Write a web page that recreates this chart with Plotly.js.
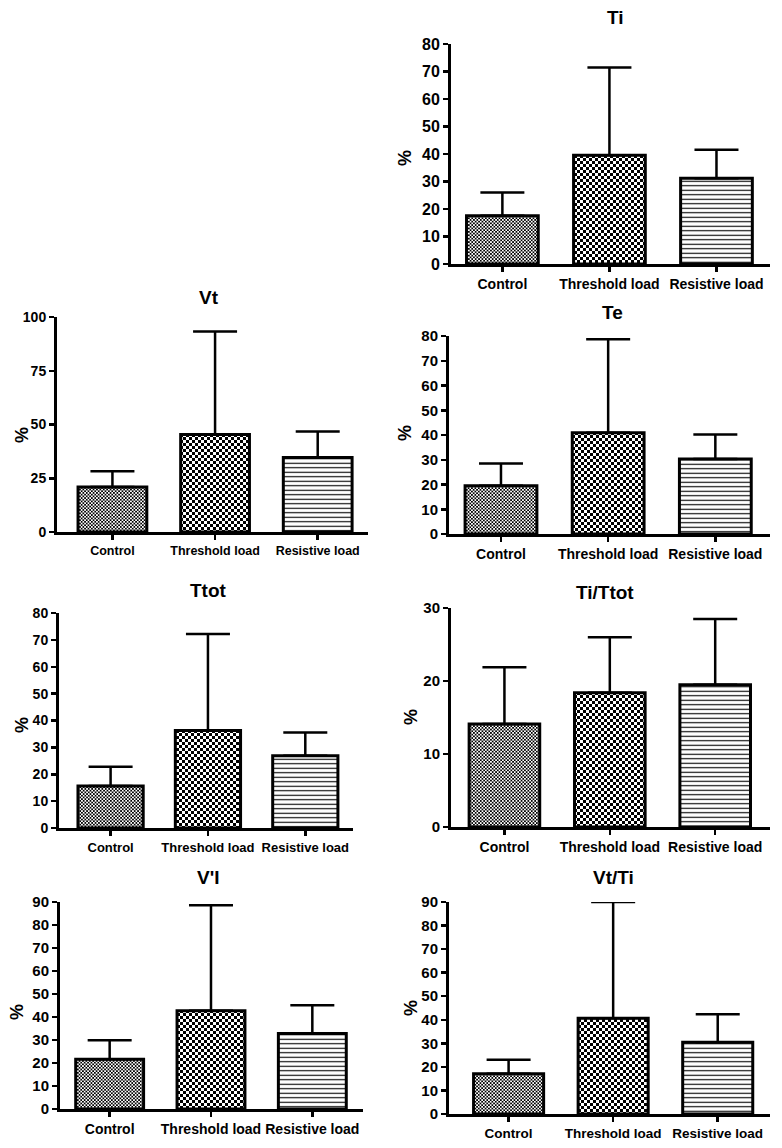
<!DOCTYPE html>
<html><head><meta charset="utf-8">
<script src="https://cdn.plot.ly/plotly-3.0.1.min.js"></script>
<style>html,body{margin:0;padding:0;background:#fff}#chart{width:782px;height:1148px}</style>
</head><body><div id="chart"></div>
<script>
// ---- data ----
const categories = ['Control', 'Threshold load', 'Resistive load'];
const panelTitles = ['Ti', 'Vt', 'Te', 'Ttot', 'Ti/Ttot', "V'I", 'Vt/Ti'];
const tiMean = [17.5, 39.5, 31.2];
const tiSd = [8.5, 32.0, 10.3];
const vtMean = [20.9, 45.4, 34.7];
const vtSd = [7.3, 47.9, 12.1];
const teMean = [19.5, 40.9, 30.3];
const teSd = [9.0, 37.8, 9.9];
const ttotMean = [15.6, 36.3, 26.9];
const ttotSd = [7.2, 35.9, 8.6];
const tiTtotMean = [14.1, 18.4, 19.5];
const tiTtotSd = [7.8, 7.6, 9.0];
const viMean = [21.6, 42.7, 32.8];
const viSd = [8.3, 45.9, 12.3];
const vtTiMean = [17.1, 40.6, 30.5];
const vtTiSd = [5.9, 49.4, 11.8];
const yMax = [80, 100, 80, 80, 30, 90, 90];
const yStep = [10, 25, 10, 10, 10, 10, 10];
const yLabel = '%';

// ---- layout (pixel positions and font sizes of each panel) ----
const W = 782, H = 1148;
const means = [tiMean, vtMean, teMean, ttotMean, tiTtotMean, viMean, vtTiMean];
const sds = [tiSd, vtSd, teSd, ttotSd, tiTtotSd, viSd, vtTiSd];
const geom = [
  {x:[451,770], y:[44,264],   xr:[-0.48,2.5],  t:[615,18],  p:[405,158],  fx:14,   fy:16},
  {x:[57,368],  y:[317,532],  xr:[-0.54,2.49], t:[209,297], p:[22,435],   fx:12.5, fy:14},
  {x:[449,770], y:[336,534],  xr:[-0.485,2.51],t:[612,313], p:[405,433],  fx:14,   fy:15},
  {x:[59,353],  y:[613,828],  xr:[-0.53,2.49], t:[208,590], p:[22,725],   fx:13,   fy:14},
  {x:[451,770], y:[608,827],  xr:[-0.507,2.52],t:[605,592], p:[411,717],  fx:14,   fy:15},
  {x:[60,363],  y:[902,1109], xr:[-0.49,2.5],  t:[208,877], p:[17,1012],  fx:14,   fy:15},
  {x:[449,770], y:[902,1114], xr:[-0.57,2.5],  t:[613,877], p:[411,1008], fx:13.5, fy:15}
];
function checker(s){const h=s/2;return `M0,0H${h}V${h}H0Z M${h},${h}H${s}V${s}H${h}Z`;}
const pats = [
  {path: checker(3.4), size: 3.4},
  {path: checker(6), size: 6},
  {shape: '-', size: 4.5, solidity: 0.25}
];
const FONT = 'Liberation Sans, Arial, sans-serif';
const data = [];
const layout = {
  width: W, height: H, margin: {l:0, r:0, t:0, b:0},
  paper_bgcolor: '#fff', plot_bgcolor: 'rgba(0,0,0,0)',
  barmode: 'overlay', showlegend: false,
  font: {family: FONT, color: '#000', size: 14, weight: 'bold'},
  annotations: []
};
geom.forEach((g, i) => {
  const k = i + 1, sfx = k === 1 ? '' : String(k);
  categories.forEach((c, j) => {
    data.push({
      type: 'bar', x: [c], y: [means[i][j]], xaxis: 'x' + sfx, yaxis: 'y' + sfx,
      width: 0.67, hoverinfo: 'skip', cliponaxis: false,
      marker: {color: '#fff', line: {color: '#000', width: 3},
        pattern: Object.assign({fgcolor: '#000', bgcolor: '#fff', fgopacity: 1, fillmode: 'replace'}, pats[j])},
      error_y: {type: 'data', symmetric: false, array: [sds[i][j]], arrayminus: [0],
        color: '#000', thickness: 2.5, width: 22}
    });
  });
  layout['xaxis' + sfx] = {
    domain: [g.x[0] / W, g.x[1] / W], range: g.xr, anchor: 'y' + sfx,
    type: 'category', categoryorder: 'array', categoryarray: categories,
    showline: true, linewidth: 3, linecolor: '#000', showgrid: false, zeroline: false,
    ticks: 'outside', ticklen: 5, tickwidth: 2.5, tickcolor: '#000', tickangle: 0,
    tickfont: {family: FONT, size: g.fx, weight: 'bold', color: '#000'}, fixedrange: true
  };
  layout['yaxis' + sfx] = {
    domain: [1 - g.y[1] / H, 1 - g.y[0] / H], range: [0, yMax[i]], anchor: 'x' + sfx,
    tick0: 0, dtick: yStep[i],
    showline: true, linewidth: 3, linecolor: '#000', showgrid: false, zeroline: false,
    ticks: 'outside', ticklen: 5, tickwidth: 2.5, tickcolor: '#000',
    tickfont: {family: FONT, size: g.fy, weight: 'bold', color: '#000'}, fixedrange: true
  };
  layout.annotations.push({
    text: panelTitles[i], x: g.t[0] / W, y: 1 - g.t[1] / H, xref: 'paper', yref: 'paper',
    showarrow: false, xanchor: 'center', yanchor: 'middle',
    font: {family: FONT, size: 19, weight: 'bold', color: '#000'}
  });
  layout.annotations.push({
    text: yLabel, x: g.p[0] / W, y: 1 - g.p[1] / H, xref: 'paper', yref: 'paper',
    showarrow: false, xanchor: 'center', yanchor: 'middle', textangle: -90,
    font: {family: FONT, size: 18, weight: 'bold', color: '#000'}
  });
});
Plotly.newPlot('chart', data, layout, {staticPlot: true, displayModeBar: false});
</script></body></html>
